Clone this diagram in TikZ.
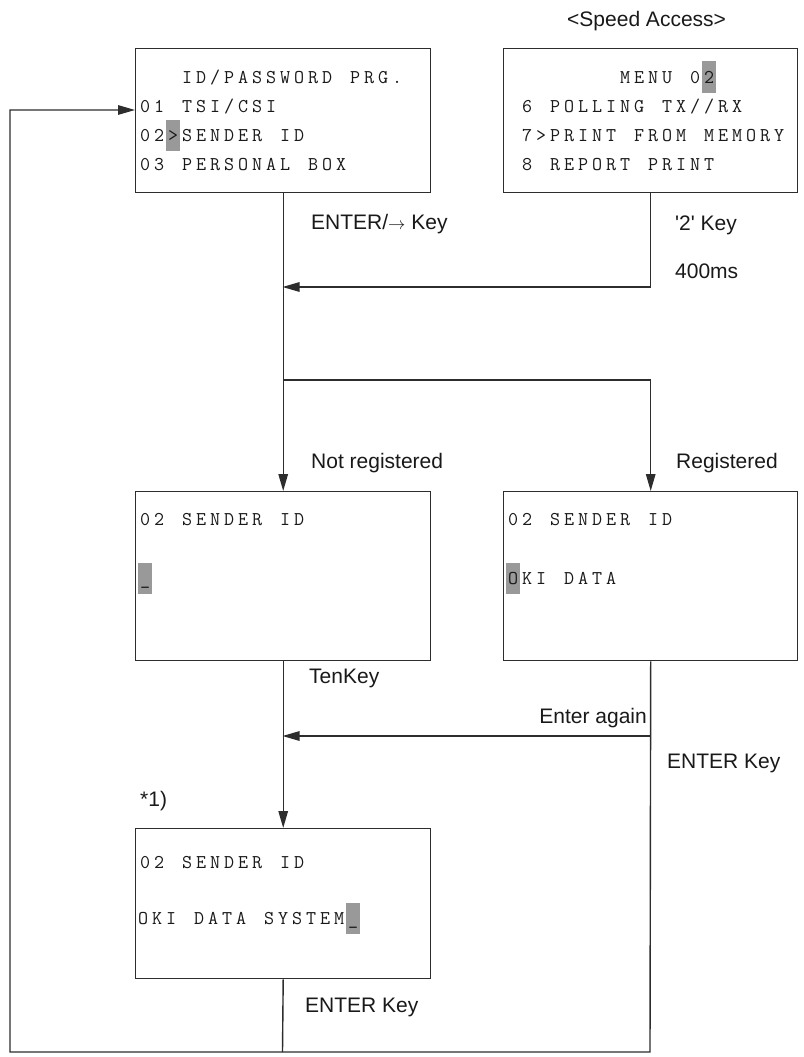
\documentclass[tikz,border=0pt]{standalone}
\usepackage{fontspec}
\newfontfamily\lsans{Liberation Sans}
\usetikzlibrary{arrows.meta}
\definecolor{linec}{RGB}{45,45,45}
\definecolor{hlc}{RGB}{153,153,153}
\definecolor{txt}{RGB}{25,25,25}
\newcommand\lcdrow[1]{\lcdA#1\relax}
\def\lcdA#1{\ifx#1\relax\else\makebox[14pt][c]{#1}\expandafter\lcdA\fi}
\newcommand\hlcell[2]{\fill[hlc] (#1,#2-21.5) rectangle ++(14,31);}
\begin{document}
\begin{tikzpicture}[x=1pt,y=-1pt,
  box/.style={draw=linec,line width=1.4pt,inner sep=0pt,anchor=north west},
  conn/.style={draw=linec,line width=1.4pt},
  arr/.style={-{Triangle[length=17pt,width=9.5pt]}},
  lcd/.style={anchor=base west,inner sep=0pt,text=txt,font=\ttfamily\fontsize{19.5}{19.5}\selectfont},
  lbl/.style={anchor=base west,inner sep=0pt,text=txt,font=\lsans\fontsize{21}{21}\selectfont}]
\useasboundingbox (0,0) rectangle (803,1057);
% boxes
\node[box,minimum width=295pt,minimum height=144pt] (tl) at (135,48) {};
\node[box,minimum width=294pt,minimum height=144pt] (tr) at (503,48) {};
\node[box,minimum width=295pt,minimum height=169pt] (ml) at (135,491) {};
\node[box,minimum width=294pt,minimum height=169pt] (mr) at (503,491) {};
\node[box,minimum width=295pt,minimum height=150pt] (bl) at (135,828) {};
% highlights
\hlcell{166}{141}
\hlcell{702}{83}
\hlcell{138}{584}
\hlcell{506}{584}
\hlcell{346}{924}
% lcd text
\node[lcd] (tl1) at (138,83) {\lcdrow{~~~ID/PASSWORD~PRG.}};
\node[lcd] (tl2) at (138,112) {\lcdrow{01~TSI/CSI}};
\node[lcd] (tl3) at (138,141) {\lcdrow{02>SENDER~ID}};
\node[lcd] (tl4) at (138,170) {\lcdrow{03~PERSONAL~BOX}};
\node[lcd] (tr1) at (520,83) {\lcdrow{~~~~~~~MENU~02}};
\node[lcd] (tr2) at (520,112) {\lcdrow{6~POLLING~TX//RX}};
\node[lcd] (tr3) at (520,141) {\lcdrow{7>PRINT~FROM~MEMORY}};
\node[lcd] (tr4) at (520,170) {\lcdrow{8~REPORT~PRINT}};
\node[lcd] (ml1) at (138,525) {\lcdrow{02~SENDER~ID}};
\node[lcd] (ml2) at (138,584) {\lcdrow{\_}};
\node[lcd] (mr1) at (506,525) {\lcdrow{02~SENDER~ID}};
\node[lcd] (mr2) at (506,584) {\lcdrow{OKI~DATA}};
\node[lcd] (bl1) at (138,868) {\lcdrow{02~SENDER~ID}};
\node[lcd] (bl2) at (136,924) {\lcdrow{OKI~DATA~SYSTEM\_}};
% connectors
\coordinate (m1) at (282.5,287);
\coordinate (br) at (282.5,380);
\coordinate (m2) at (282.5,736);
\coordinate (m2r) at (650,736);
\coordinate (cr) at (650,1052);
\coordinate (cb) at (282.5,1052);
\coordinate (cl) at (10,1052);
\coordinate (in) at (135,110);
\draw[conn,arr] (tl.south) -- (ml.north);
\draw[conn,arr] (tr.south) |- (m1);
\draw[conn,arr] (br) -| (mr.north);
\draw[conn,arr] (ml.south) -- (bl.north);
\draw[conn,arr] (m2r) -- (m2);
\draw[conn] (bl.south) -- (cb);
\draw[conn,arr] (mr.south) -- (cr) -- (cl) |- (in);
% labels
\node[lbl] (lspeed) at (567,27) {<Speed Access>};
\node[lbl] (lenter1) at (311,229) {ENTER/{\fontsize{16}{16}\selectfont$\rightarrow$} Key};
\node[lbl] (l2key) at (675,230) {'2' Key};
\node[lbl] (l400) at (675,278) {400ms};
\node[lbl] (lnot) at (311,468) {Not registered};
\node[lbl] (lreg) at (676,468) {Registered};
\node[lbl] (lten) at (309,683) {TenKey};
\node[lbl,anchor=base east] (lagain) at (647,723) {Enter again};
\node[lbl] (lenter2) at (667,768) {ENTER Key};
\node[lbl] (lstar) at (140,806) {*1)};
\node[lbl] (lenter3) at (305,1012) {ENTER Key};
\end{tikzpicture}
\end{document}
